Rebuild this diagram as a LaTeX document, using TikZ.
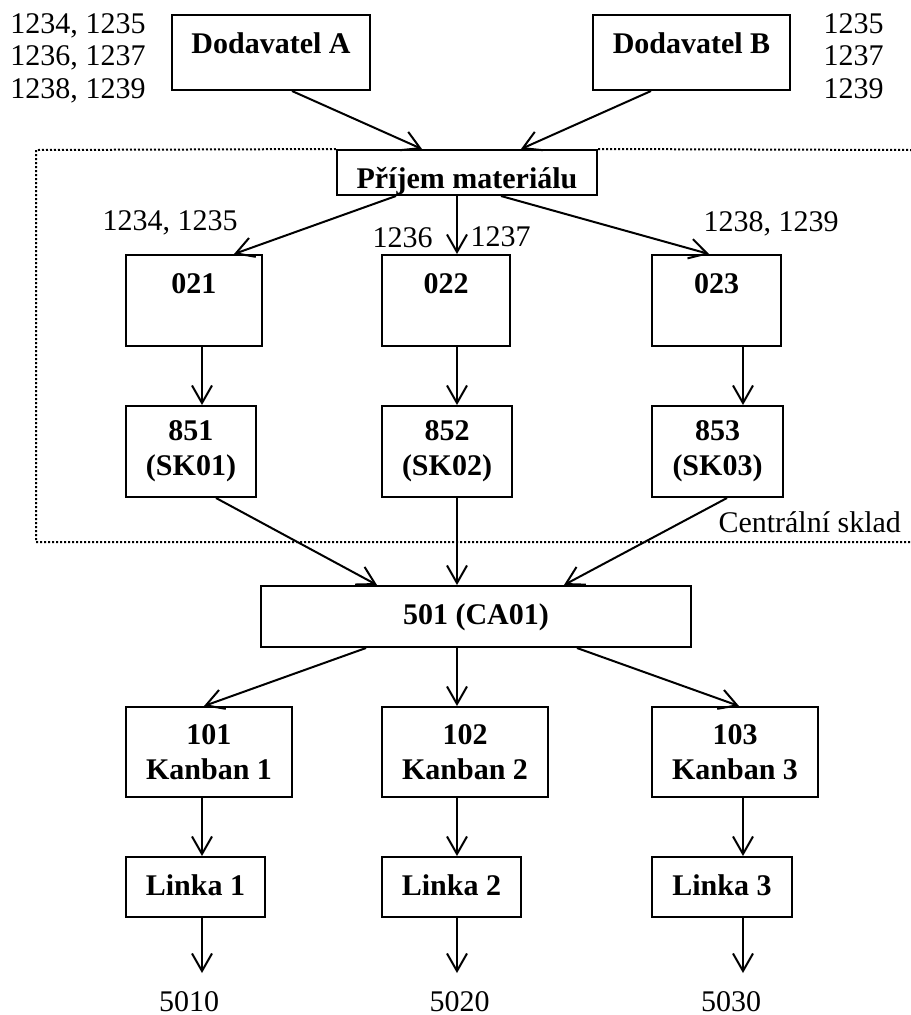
\documentclass[tikz,border=0pt]{standalone}
\usepackage{fontspec}
\setmainfont{Liberation Serif}
\usetikzlibrary{arrows.meta,calc}

\begin{document}
\begin{tikzpicture}[x=0.4pt,y=-0.4pt,
  font=\fontsize{12}{14}\selectfont,
  box/.style={draw,line width=0.8pt,inner sep=0pt,align=center,font=\fontsize{12}{14}\selectfont\bfseries},
  upbox/.style={box,text height=15.2pt,text depth=#1},
  arr/.style={line width=0.8pt,-{Straight Barb[length=7pt,width=8pt,line width=0.8pt]}},
  lbl/.style={inner sep=0pt,align=left,font=\fontsize{12}{13}\selectfont},
  sklad/.style={line width=0.8pt,dash pattern=on 0.8pt off 0.8pt}]
\useasboundingbox (0,0) rectangle (911,1015);

% columns for the vertical arrows
\coordinate (c1) at (202,0);
\coordinate (c2) at (457,0);
\coordinate (c3) at (743,0);

% suppliers
\node[upbox=14.8pt,minimum width=79.2pt] (dodA) at (271,52.5) {Dodavatel A};
\node[upbox=14.8pt,minimum width=78.8pt] (dodB) at (691.5,52.5) {Dodavatel B};
\node[lbl,anchor=north west] (polA) at (10,13) {1234, 1235\\1236, 1237\\1238, 1239};
\node[lbl,anchor=north west] (polB) at (823,13) {1235\\1237\\1239};

% central store
\node[upbox=2.8pt,minimum width=104pt] (prijem) at (467,172.5) {Příjem materiálu};
\node[upbox=21.2pt,minimum width=54.4pt] (n021) at (194,300.5) {021};
\node[upbox=21.2pt,minimum width=51.2pt] (n022) at (446,300.5) {022};
\node[upbox=21.2pt,minimum width=51.6pt] (n023) at (716.5,300.5) {023};
\node[box,minimum width=52pt,minimum height=36.4pt] (n851) at (191,451.5) {851\\(SK01)};
\node[box,minimum width=52pt,minimum height=36.4pt] (n852) at (447,451.5) {852\\(SK02)};
\node[box,minimum width=52.4pt,minimum height=36.4pt] (n853) at (717.5,451.5) {853\\(SK03)};
\node[anchor=base west,inner sep=0pt] (pol021) at (102,230) {1234, 1235};
\node[anchor=base west,inner sep=0pt] (pol022a) at (372,247) {1236};
\node[anchor=base west,inner sep=0pt] (pol022b) at (470,246) {1237};
\node[anchor=base west,inner sep=0pt] (pol023) at (703,231) {1238, 1239};
\node[anchor=base west,inner sep=0pt] (skladtxt) at (718,532) {Centrální sklad};
\draw[sklad] (prijem.north west) -- (36,150) -- (36,542) -- (911,542);
\draw[sklad] (prijem.north east) -- (911,150);

% production
\node[upbox=9.2pt,minimum width=172pt] (ca01) at (476,616.5) {501 (CA01)};
\node[box,minimum width=66.4pt,minimum height=36pt] (k101) at (209,752) {101\\Kanban 1};
\node[box,minimum width=66.4pt,minimum height=36pt] (k102) at (465,752) {102\\Kanban 2};
\node[box,minimum width=66.4pt,minimum height=36pt] (k103) at (735,752) {103\\Kanban 3};
\node[upbox=8.8pt,minimum width=55.6pt] (linka1) at (195.5,887) {Linka 1};
\node[upbox=8.8pt,minimum width=55.6pt] (linka2) at (451.5,887) {Linka 2};
\node[upbox=8.8pt,minimum width=56pt] (linka3) at (722,887) {Linka 3};
\node[anchor=base,inner sep=0pt] (out1) at (189,1011) {5010};
\node[anchor=base,inner sep=0pt] (out2) at (459.5,1011) {5020};
\node[anchor=base,inner sep=0pt] (out3) at (731,1011) {5030};
\coordinate (e1) at (202,973);
\coordinate (e2) at (457,973);
\coordinate (e3) at (743,973);

% arrows
\draw[arr] ($(dodA.south west)+(121,0)$) -- ($(prijem.north west)+(86,0)$);
\draw[arr] ($(dodB.south west)+(59,0)$) -- ($(prijem.north west)+(185,0)$);
\draw[arr] ($(prijem.south west)+(60,0)$) -- ($(n021.north west)+(109,0)$);
\draw[arr] (prijem.south -| c2) -- (n022.north -| c2);
\draw[arr] ($(prijem.south west)+(165,0)$) -- ($(n023.north west)+(58,0)$);
\draw[arr] (n021.south -| c1) -- (n851.north -| c1);
\draw[arr] (n022.south -| c2) -- (n852.north -| c2);
\draw[arr] (n023.south -| c3) -- (n853.north -| c3);
\draw[arr] ($(n851.south west)+(91,0)$) -- ($(ca01.north west)+(117,0)$);
\draw[arr] (n852.south -| c2) -- (ca01.north -| c2);
\draw[arr] ($(n853.south west)+(76,0)$) -- ($(ca01.north west)+(304,0)$);
\draw[arr] ($(ca01.south west)+(106,0)$) -- ($(k101.north west)+(79,0)$);
\draw[arr] (ca01.south -| c2) -- (k102.north -| c2);
\draw[arr] ($(ca01.south west)+(317,0)$) -- ($(k103.north west)+(88,0)$);
\foreach \i in {1,2,3} {
  \draw[arr] (k10\i.south -| c\i) -- (linka\i.north -| c\i);
  \draw[arr] (linka\i.south -| c\i) -- (e\i);
}
\end{tikzpicture}
\end{document}
